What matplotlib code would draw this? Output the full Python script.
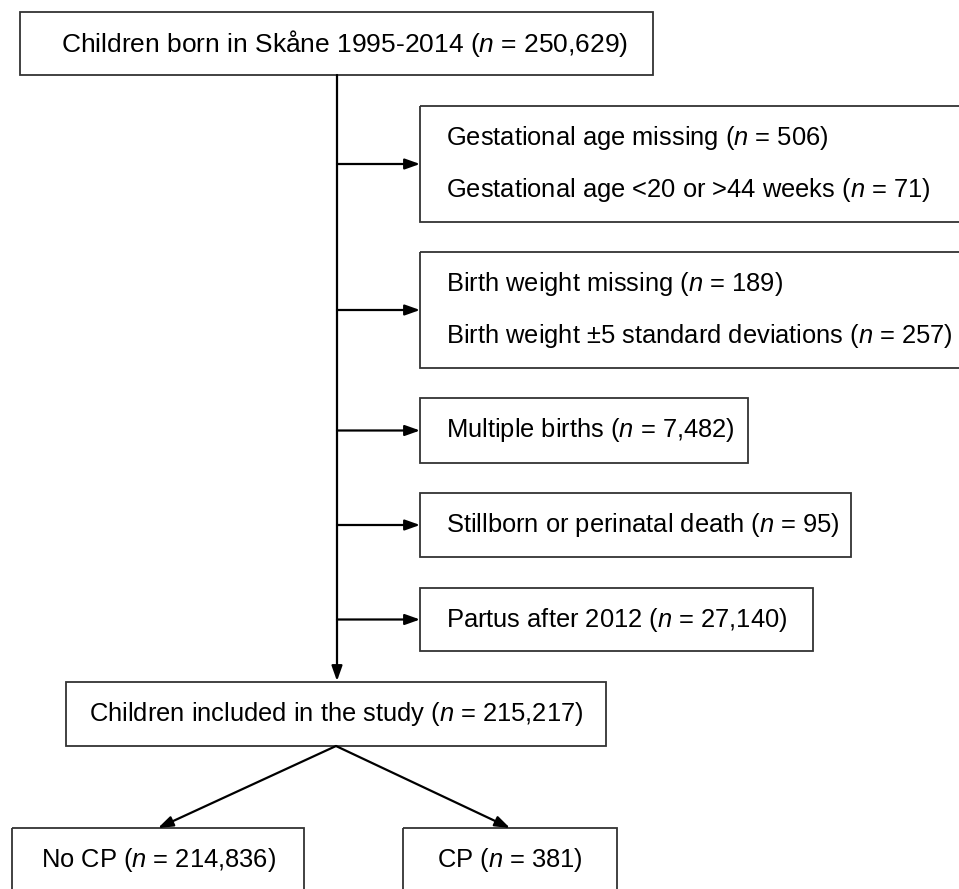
import matplotlib
matplotlib.use("Agg")
import matplotlib.pyplot as plt
from matplotlib.patches import Rectangle, FancyArrowPatch

plt.rcParams['font.family'] = ['Liberation Sans', 'DejaVu Sans']
plt.rcParams['mathtext.fontset'] = 'custom'
plt.rcParams['mathtext.rm'] = 'Liberation Sans'
plt.rcParams['mathtext.it'] = 'Liberation Sans:italic'

# flowchart content
top_label = "Children born in Skåne 1995-2014"
top_n = "250,629"

excl_labels = [
    ["Gestational age missing", "Gestational age <20 or >44 weeks"],
    ["Birth weight missing", "Birth weight ±5 standard deviations"],
    ["Multiple births"],
    ["Stillborn or perinatal death"],
    ["Partus after 2012"],
]
excl_n = [["506", "71"], ["189", "257"], ["7,482"], ["95"], ["27,140"]]

incl_label = "Children included in the study"
incl_n = "215,217"

out_labels = ["No CP", "CP"]
out_n = ["214,836", "381"]

# layout in pixel space (x0, y0, x1, y1)
top_box = (20, 12, 653, 75)
excl_boxes = [(420, 106, 975, 222), (420, 252, 975, 368), (420, 398, 748, 463),
              (420, 493, 851, 557), (420, 588, 813, 651)]
incl_box = (66, 682, 606, 746)
out_boxes = [(12, 828, 304, 900), (403, 828, 617, 900)]
spine_x = 337
FS = 18.4
FS_TOP = 19.0


def lab(text, n):
    return text + r" ($\mathit{n}$ = " + n + ")"


fig = plt.figure(figsize=(9.59, 8.89), dpi=100)
ax = fig.add_axes([0, 0, 1, 1])
ax.set_xlim(0, 959)
ax.set_ylim(889, 0)
ax.axis("off")


def box(b):
    ax.add_patch(Rectangle((b[0], b[1]), b[2] - b[0], b[3] - b[1],
                           fill=False, edgecolor="#333333", linewidth=1.3))


def arrow(p0, p1):
    ax.add_patch(FancyArrowPatch(p0, p1, arrowstyle="-|>,head_length=9,head_width=3.2",
                                 mutation_scale=1, color="black", linewidth=1.6,
                                 shrinkA=0, shrinkB=0))


# top
box(top_box)
ax.text((top_box[0] + top_box[2]) / 2 + 8, (top_box[1] + top_box[3]) / 2, lab(top_label, top_n),
        ha="center", va="center", fontsize=FS_TOP)

# spine
arrow((spine_x, top_box[3]), (spine_x, incl_box[1] - 1))

for b, labels, ns in zip(excl_boxes, excl_labels, excl_n):
    box(b)
    ymid = (b[1] + b[3]) / 2
    arrow((spine_x, ymid), (b[0], ymid))
    if len(labels) == 1:
        ax.text(446, ymid, lab(labels[0], ns[0]), ha="left", va="center", fontsize=FS)
    else:
        ax.text(446, ymid - 26, lab(labels[0], ns[0]), ha="left", va="center", fontsize=FS)
        ax.text(446, ymid + 26, lab(labels[1], ns[1]), ha="left", va="center", fontsize=FS)

box(incl_box)
cx = (incl_box[0] + incl_box[2]) / 2
ax.text(cx, (incl_box[1] + incl_box[3]) / 2, lab(incl_label, incl_n),
        ha="center", va="center", fontsize=FS)

for b, t, n in zip(out_boxes, out_labels, out_n):
    box(b)
    bx = (b[0] + b[2]) / 2
    arrow((cx, incl_box[3]), (bx, b[1]))
    ax.text(bx, b[1] + 32, lab(t, n), ha="center", va="center", fontsize=FS)

fig.savefig("out.png", dpi=100)
